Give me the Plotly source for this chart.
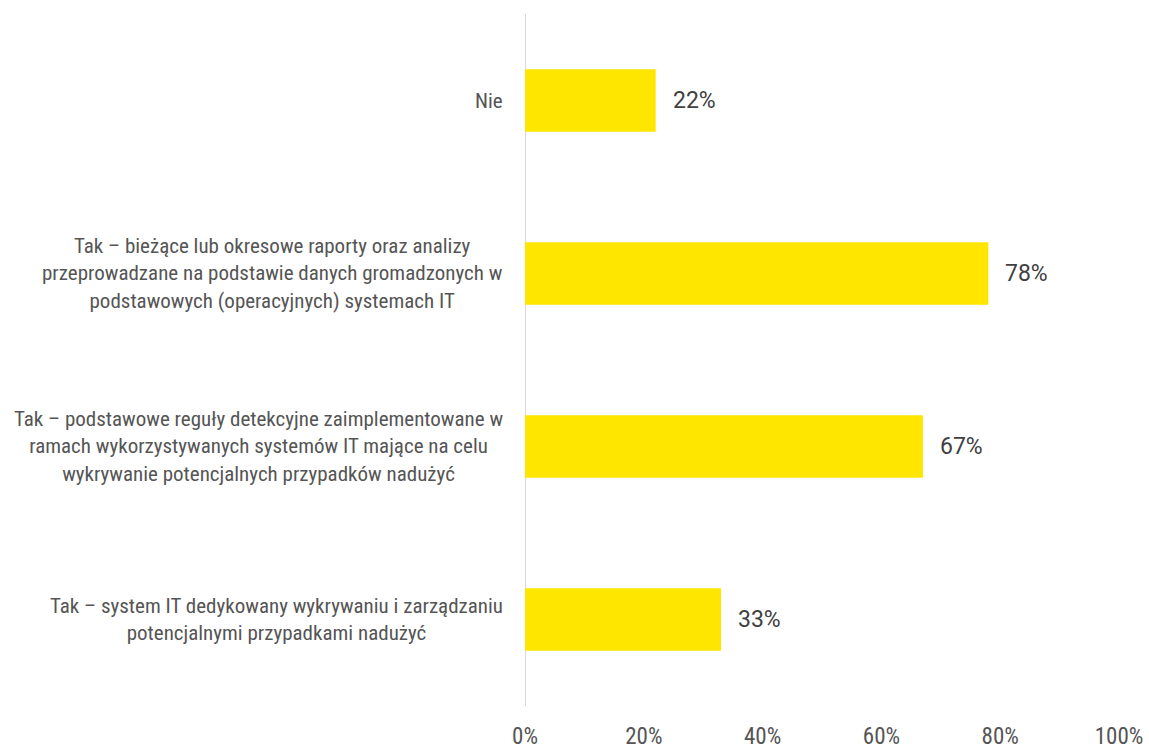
import plotly.graph_objects as go

categories = [
    "Nie",
    "Tak – bieżące lub okresowe raporty oraz analizy<br>przeprowadzane na podstawie danych gromadzonych w<br>podstawowych (operacyjnych) systemach IT",
    "Tak – podstawowe reguły detekcyjne zaimplementowane w<br>ramach wykorzystywanych systemów IT mające na celu<br>wykrywanie potencjalnych przypadków nadużyć",
    "Tak – system IT dedykowany wykrywaniu i zarządzaniu<br>potencjalnymi przypadkami nadużyć",
]
values = [0.22, 0.78, 0.67, 0.33]
tick_vals = [0, 0.2, 0.4, 0.6, 0.8, 1.0]
tick_text = ["0%", "20%", "40%", "60%", "80%", "100%"]

NARROW = "Liberation Sans Narrow, Roboto Condensed, Roboto, sans-serif"

fig = go.Figure()
fig.add_trace(go.Bar(
    x=values, y=list(range(len(categories))), orientation="h",
    marker=dict(color="#FFE600", line=dict(width=0)),
    width=0.36, hoverinfo="skip",
))

annotations = []
for i, (c, v) in enumerate(zip(categories, values)):
    annotations.append(dict(
        x=0, y=i, xref="x", yref="y", text=c, showarrow=False,
        xanchor="right", yanchor="middle", align="center", xshift=-20,
        font=dict(family=NARROW, size=21, color="#555555"),
    ))
    annotations.append(dict(
        x=v, y=i, xref="x", yref="y", text=f"{round(v*100)}%", showarrow=False,
        xanchor="left", yanchor="middle", xshift=15,
        font=dict(family="Roboto, sans-serif", size=23, color="#404040"),
    ))

fig.update_layout(
    width=1149, height=751,
    margin=dict(l=525, r=30, t=14, b=45, autoexpand=False),
    paper_bgcolor="white", plot_bgcolor="white",
    showlegend=False,
    xaxis=dict(range=[0, 1.0], tickvals=tick_vals, ticktext=tick_text,
               showgrid=False, zeroline=False, showline=False, ticks="",
               tickfont=dict(family=NARROW, size=23, color="#555555"),
               ticklabelstandoff=14, fixedrange=True, automargin=False),
    yaxis=dict(range=[3.5, -0.5], showticklabels=False, showgrid=False,
               zeroline=False, showline=False, ticks="", automargin=False,
               fixedrange=True),
    shapes=[dict(type="line", xref="x", yref="paper", x0=0, x1=0, y0=0, y1=1,
                 line=dict(color="#D9D9D9", width=2), layer="below")],
    annotations=annotations,
)

fig.write_html(
    "out.html",
    config={"displayModeBar": False},
    post_script="document.body.style.margin='0px';document.body.style.overflow='hidden';",
)
